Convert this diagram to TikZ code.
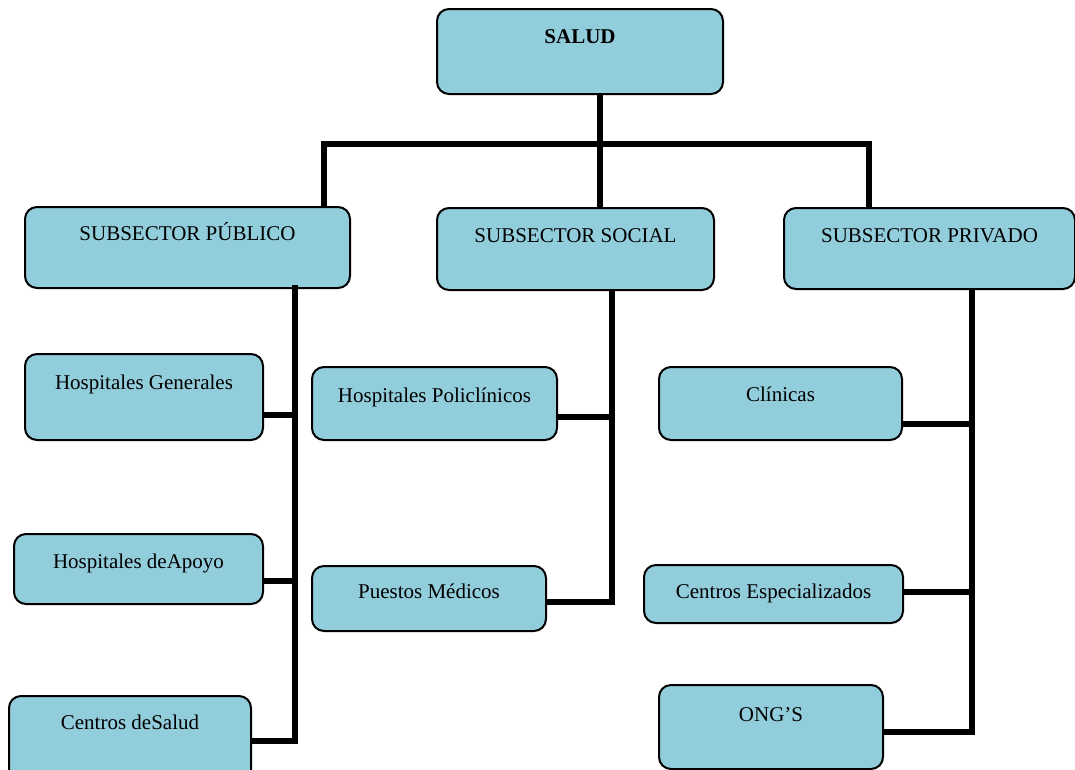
\documentclass[tikz,border=0pt]{standalone}
\usepackage{fontspec}
\setmainfont{Liberation Serif}
\usetikzlibrary{positioning,calc}
\definecolor{aqua}{HTML}{92CDDC}

\begin{document}
\begin{tikzpicture}[x=1pt, y=-1pt,
          box/.style={draw=black, line width=2pt, fill=aqua, rounded corners=12pt, anchor=north, inner ysep=0pt, align=center, font=\fontsize{21}{25}\selectfont},
          conn/.style={line width=6pt, line join=miter, draw=black}]
        \useasboundingbox (0,0) rectangle (1075,769);
        % top level
        \node[box, minimum width=286pt, text height=34pt, text depth=51pt, font=\fontsize{21}{25}\selectfont\bfseries] (salud) at (580,8) {SALUD};
        % subsectors
        \node[box, minimum width=325pt, text height=33pt, text depth=48pt] (pub) at (187.5,206) {SUBSECTOR PÚBLICO};
        \node[box, minimum width=277pt, text height=34pt, text depth=48pt] (soc) at (575.5,207) {SUBSECTOR SOCIAL};
        \node[box, minimum width=291pt, text height=34pt, text depth=47pt] (priv) at (929.5,207) {SUBSECTOR PRIVADO};
        % publico
        \node[box, minimum width=238pt, text height=35pt, text depth=51pt] (hgen) at (144,353) {Hospitales Generales};
        \node[box, minimum width=249pt, text height=34pt, text depth=36pt] (hapo) at (138.5,533) {Hospitales deApoyo};
        \node[box, minimum width=242pt, text height=33pt, text depth=57pt] (csal) at (130,695) {Centros deSalud};
        % social
        \node[box, minimum width=245pt, text height=35pt, text depth=38pt] (hpol) at (434.5,366) {Hospitales Policlínicos};
        \node[box, minimum width=234pt, text height=32pt, text depth=33pt] (pmed) at (429,565) {Puestos Médicos};
        % privado
        \node[box, minimum width=243pt, text height=34pt, text depth=39pt] (clin) at (780.5,366) {Clínicas};
        \node[box, minimum width=259pt, text height=33pt, text depth=25pt] (cesp) at (773.5,564) {Centros Especializados};
        \node[box, minimum width=224pt, text height=36pt, text depth=48pt] (ong) at (771,684) {ONG’S};

        % junctions
        \coordinate (busL) at (324,144);
        \coordinate (busM) at (600,144);
        \coordinate (busR) at (869,144);
        \coordinate (pA) at (295,415);
        \coordinate (pB) at (295,581);
        \coordinate (pC) at (295,741);
        \coordinate (sA) at (612,417);
        \coordinate (sB) at (612,602);
        \coordinate (rA) at (972,424);
        \coordinate (rB) at (972,592);
        \coordinate (rC) at (972,732);

        \draw[conn] (salud.south -| busM) -- (soc.north -| busM);
        \draw[conn] (pub.north -| busL) -- (busL) -- (busR) -- (priv.north -| busR);

        \draw[conn] ([yshift=4pt]pub.south -| pC) -- (pC) -- (csal.east |- pC);
        \draw[conn] (hgen.east |- pA) -- (pA);
        \draw[conn] (hapo.east |- pB) -- (pB);

        \draw[conn] (soc.south -| sB) -- (sB) -- (pmed.east |- sB);
        \draw[conn] (hpol.east |- sA) -- (sA);

        \draw[conn] (priv.south -| rC) -- (rC) -- (ong.east |- rC);
        \draw[conn] (clin.east |- rA) -- (rA);
        \draw[conn] (cesp.east |- rB) -- (rB);
      \end{tikzpicture}
\end{document}
